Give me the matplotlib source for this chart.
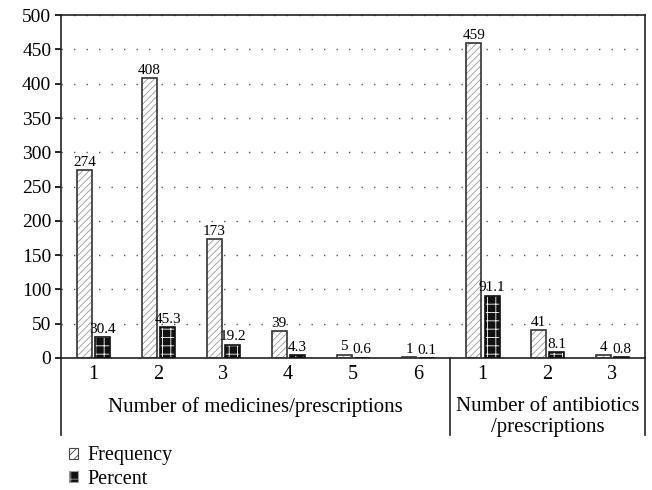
import matplotlib
matplotlib.use('Agg')
import matplotlib.pyplot as plt
from matplotlib.patches import Patch
import numpy as np

plt.rcParams['font.family'] = 'Liberation Serif'
plt.rcParams['hatch.linewidth'] = 0.6

# data
cats = ['1', '2', '3', '4', '5', '6', '1', '2', '3']
freq = [274, 408, 173, 39, 5, 1, 459, 41, 4]
pct = [30.4, 45.3, 19.2, 4.3, 0.6, 0.1, 91.1, 8.1, 0.8]
groups = ['Number of medicines/prescriptions', 'Number of antibiotics\n/prescriptions']
group_size = [6, 3]

x = np.arange(len(cats))
w = 0.23

fig = plt.figure(figsize=(6.52, 4.9), dpi=100)
ax = fig.add_axes([0.0936, 0.2694, 0.8954, 0.6996])

# frequency bars: light diagonal hatch + dark outline
ax.bar(x - 0.135, freq, w, color='white', edgecolor='#9a9a9a', hatch='/////', linewidth=0, zorder=2)
ax.bar(x - 0.135, freq, w, fill=False, edgecolor='#333333', linewidth=1.2, zorder=3)
# percent bars: black with white speckle
ax.bar(x + 0.145, pct, w, color='#111111', edgecolor='white', hatch='++', linewidth=0, zorder=2)
ax.bar(x + 0.145, pct, w, fill=False, edgecolor='#111111', linewidth=1.2, zorder=3)

for i in range(len(cats)):
    ax.text(x[i] - 0.135, freq[i] + 2, str(freq[i]), ha='center', va='bottom', fontsize=11, zorder=4)
    ax.text(x[i] + 0.145, pct[i] + 2, str(pct[i]), ha='center', va='bottom', fontsize=11, zorder=4)

ax.set_xlim(-0.5, len(cats) - 0.5)
ax.set_ylim(0, 500)
ax.set_yticks(np.arange(0, 501, 50))
ax.tick_params(axis='y', labelsize=14, length=4, width=1.2, direction='out', pad=3)
ax.set_xticks(x)
ax.set_xticklabels(cats)
ax.tick_params(axis='x', labelsize=14.5, length=0, pad=5)
ax.yaxis.grid(True, linestyle=(0, (1, 8)), color='#555555', linewidth=1, zorder=0)
ax.set_axisbelow(True)
for s in ax.spines.values():
    s.set_linewidth(1.2)
    s.set_color('#222222')

# group separators below the axis
bounds = [-0.5]
for n in group_size:
    bounds.append(bounds[-1] + n)
trans = ax.get_xaxis_transform()
for b in bounds:
    ax.plot([b, b], [0, -0.2245], transform=trans, color='#222222', linewidth=1.2, clip_on=False)

ax.text(np.mean(x[:6]), -0.143, groups[0], transform=trans, ha='center', va='center', fontsize=15)
ax.text(np.mean(x[6:]), -0.172, groups[1], transform=trans, ha='center', va='center', fontsize=15,
        multialignment='center', linespacing=1.1)

handles = [Patch(facecolor='white', edgecolor='#444444', hatch='////', linewidth=0.8),
           Patch(facecolor='#111111', edgecolor='#999999', hatch='++', linewidth=0.8)]
leg = fig.legend(handles, ['Frequency', 'Percent'], loc='upper left', frameon=False, fontsize=14.5,
                 handlelength=0.45, handleheight=0.45, handletextpad=0.45,
                 labelspacing=0.22, borderaxespad=0, borderpad=0)
leg.set_bbox_to_anchor((0.106, 0.089), transform=fig.transFigure)

fig.savefig('out.png', dpi=100)
